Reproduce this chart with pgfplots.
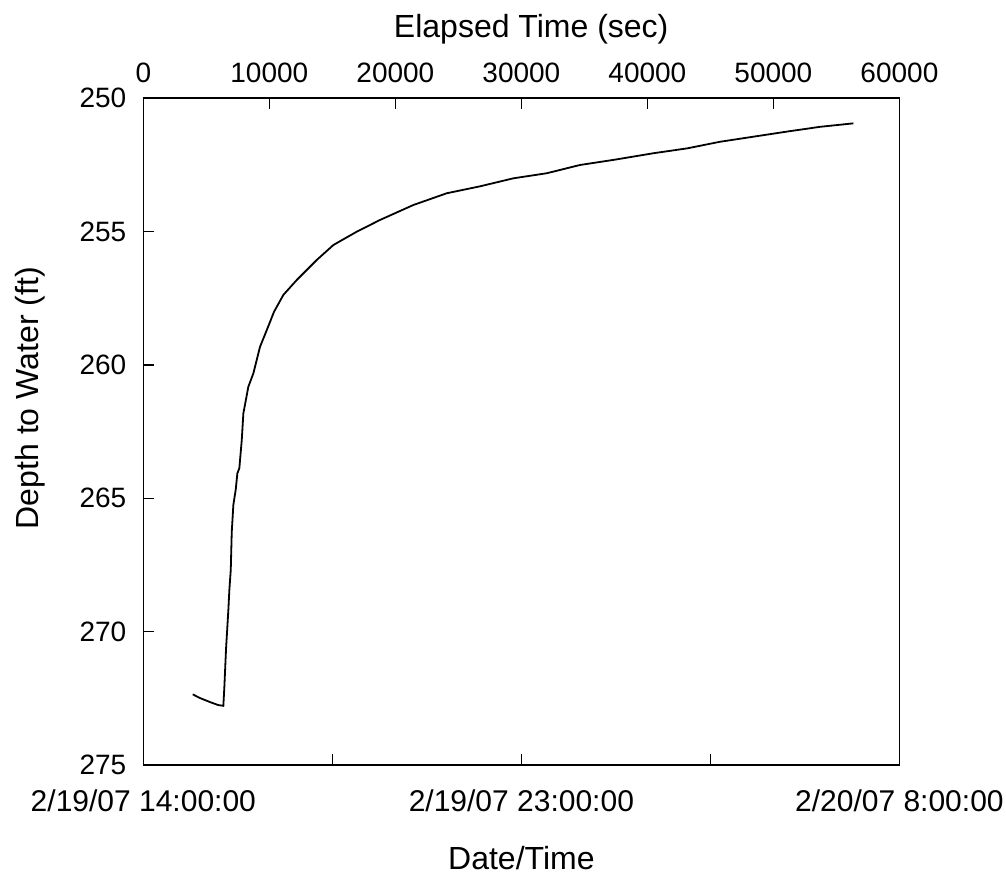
\documentclass[border=0pt]{standalone}
\usepackage{fontspec}
\setmainfont{Liberation Sans}
\usepackage{pgfplots}
\pgfplotsset{compat=1.18}

% water level recovery, seconds since start vs depth to water
\pgfplotstableread{
t      depth
3921   272.35
4500   272.49
5294   272.64
5929   272.75
6349   272.78
6429   272.07
6563   270.64
6746   269.19
6825   268.44
6937   267.69
7016   266.26
7143   265.25
7333   264.67
7460   264.07
7619   263.87
7810   262.82
7937   261.82
8333   260.82
8730   260.32
9262   259.32
9794   258.70
10373  258.01
11111  257.38
12175  256.82
13762  256.07
15079  255.51
16937  255.01
18786  254.57
21429  254.01
24079  253.57
26722  253.31
29365  253.01
32016  252.82
34659  252.51
37302  252.32
40476  252.07
43127  251.89
45770  251.64
48413  251.45
51063  251.26
53706  251.08
56349  250.95
}\welldata

\begin{document}
\begin{tikzpicture}
  \pgfplotsset{
    every axis/.append style={
      width=378pt, height=333.5pt, scale only axis,
      xmin=0, xmax=60000, ymin=250, ymax=275, y dir=reverse,
      scaled x ticks=false, scaled y ticks=false,
      tick align=inside, major tick length=5.5pt,
      axis line style={line width=0.7pt},
      every tick/.style={black, line width=0.7pt},
      tick label style={font=\fontsize{14}{16}\selectfont},
      label style={font=\fontsize{16}{18}\selectfont},
    },
  }
  \begin{axis}[
    xtick={0,15000,30000,45000,60000},
    xticklabels={2/19/07 14:00:00,,2/19/07 23:00:00,,2/20/07 8:00:00},
    xtick pos=lower,
    ytick={250,255,260,265,270,275},
    yticklabels={250,255,260,265,270,275},
    ytick pos=left,
    x tick label style={yshift=-9pt, font=\fontsize{15}{17}\selectfont},
    y tick label style={xshift=-5pt},
    xlabel={Date/Time},
    ylabel={Depth to Water (ft)},
    xlabel style={at={(axis description cs:0.5,-0.139)}, anchor=center},
    ylabel style={at={(axis description cs:-0.15,0.55)}, anchor=center},
  ]
    \addplot[black, line width=0.9pt] table[x=t, y=depth] {\welldata};
    \coordinate (bl) at (axis description cs:-0.1896,-0.1694);
    \coordinate (tr) at (axis description cs:1.141,1.1469);
  \end{axis}
  \begin{axis}[
    axis x line*=top, axis y line=none,
    xtick={0,10000,20000,30000,40000,50000,60000},
    xticklabels={0,10000,20000,30000,40000,50000,60000},
    x tick label style={yshift=4pt},
    xlabel={Elapsed Time (sec)},
    xlabel style={at={(axis description cs:0.513,1.103)}, anchor=center},
  ]
  \end{axis}
  \pgfresetboundingbox
  \path (bl) rectangle (tr);
\end{tikzpicture}
\end{document}
